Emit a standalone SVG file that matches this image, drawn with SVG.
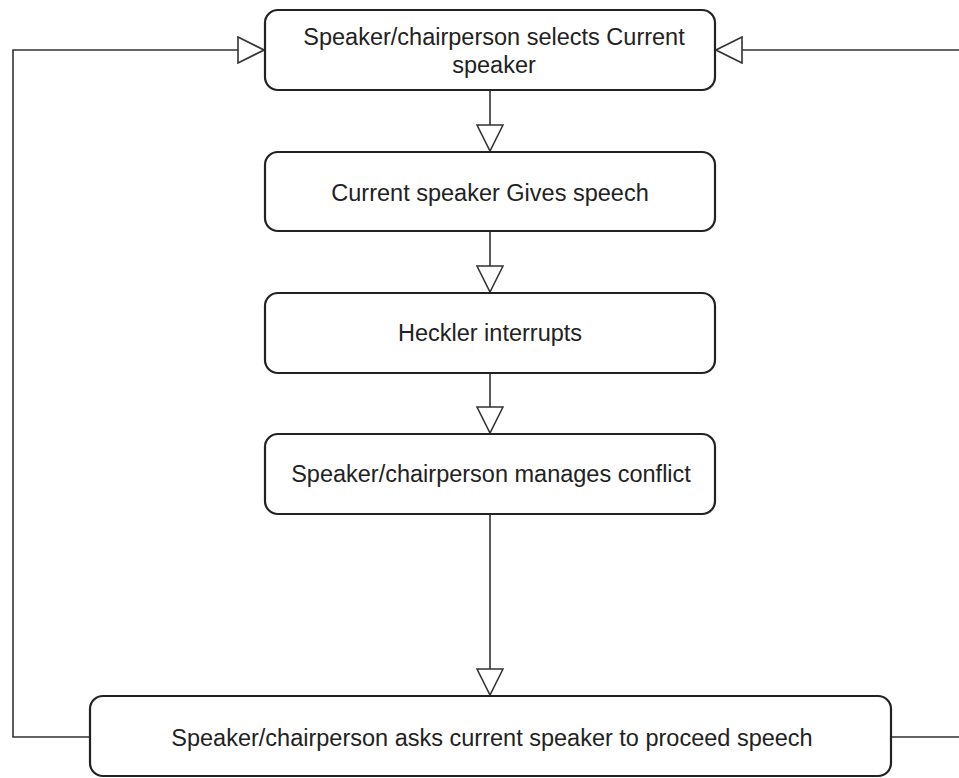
<svg xmlns="http://www.w3.org/2000/svg" width="959" height="778" viewBox="0 0 959 778">
<style>
.box{fill:#fff;stroke:#222;stroke-width:2.2}
.t{font-family:"Liberation Sans",Arial,sans-serif;font-size:23.5px;fill:#222;text-anchor:middle}
.c{fill:none;stroke:#333;stroke-width:1.6}
</style>
<defs>
<marker id="tri" viewBox="0 0 28 28" refX="27" refY="14" markerWidth="28" markerHeight="28" markerUnits="userSpaceOnUse" orient="auto">
<path d="M1,1 L27,14 L1,27 Z" fill="#fff" stroke="#333" stroke-width="1.6"/>
</marker>
</defs>
<rect width="959" height="778" fill="#fff"/>
<g id="connectors">
<path class="c" d="M490,91 L490,151" marker-end="url(#tri)"/>
<path class="c" d="M490,232 L490,292" marker-end="url(#tri)"/>
<path class="c" d="M490,374 L490,433" marker-end="url(#tri)"/>
<path class="c" d="M490,515 L490,695" marker-end="url(#tri)"/>
<path class="c" d="M90,737 L13,737 L13,50 L264,50" marker-end="url(#tri)"/>
<path class="c" d="M891,737 L975,737 L975,50 L716,50" marker-end="url(#tri)"/>
</g>
<g id="n1">
<rect class="box" x="265" y="10" width="450" height="80" rx="13"/>
<text class="t" x="494" y="45">Speaker/chairperson selects Current</text>
<text class="t" x="494" y="73">speaker</text>
</g>
<g id="n2">
<rect class="box" x="265" y="152" width="450" height="79" rx="13"/>
<text class="t" x="490" y="201">Current speaker Gives speech</text>
</g>
<g id="n3">
<rect class="box" x="265" y="293" width="450" height="80" rx="13"/>
<text class="t" x="490" y="341">Heckler interrupts</text>
</g>
<g id="n4">
<rect class="box" x="265" y="434" width="450" height="80" rx="13"/>
<text class="t" x="491" y="482">Speaker/chairperson manages conflict</text>
</g>
<g id="n5">
<rect class="box" x="90" y="696" width="801" height="80" rx="13"/>
<text class="t" x="492" y="746">Speaker/chairperson asks current speaker to proceed speech</text>
</g>
</svg>
